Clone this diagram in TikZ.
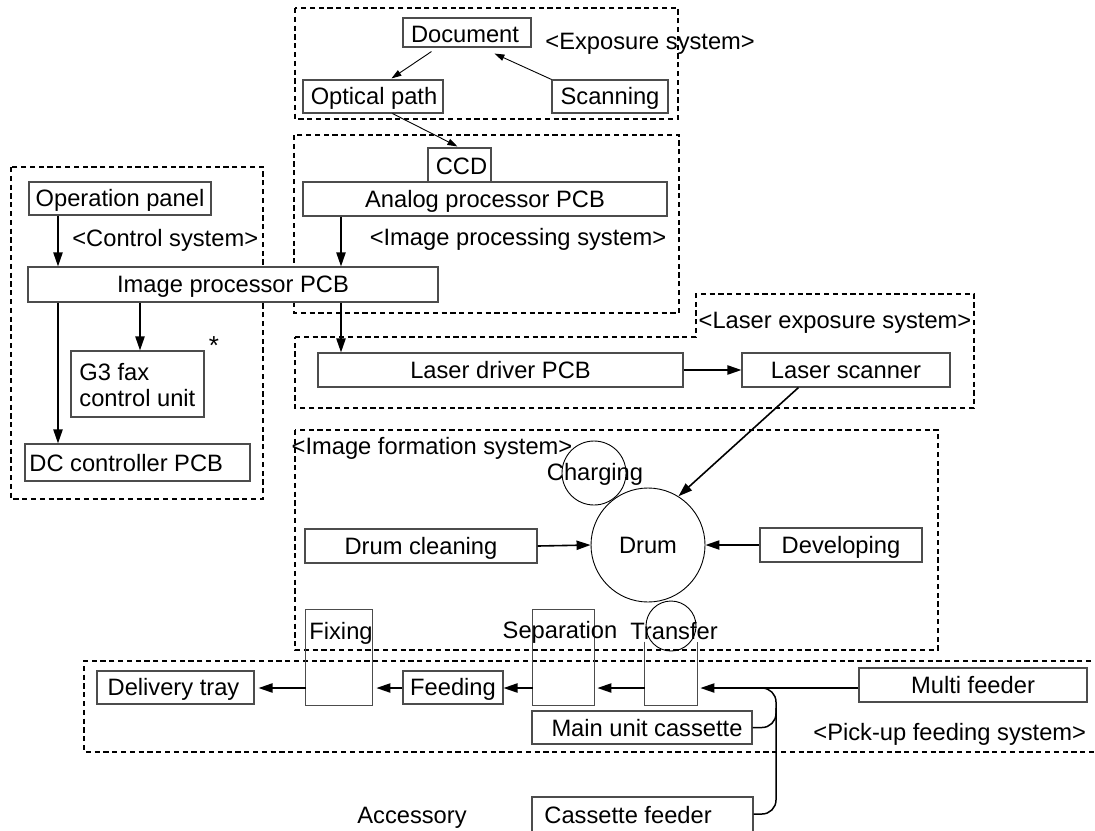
\documentclass[tikz,border=0pt]{standalone}
\usepackage{fontspec}
\setmainfont{Liberation Sans}
\usetikzlibrary{arrows.meta,fit,calc}
\begin{document}
\begin{tikzpicture}[x=0.5pt,y=-0.5pt,
  font=\fontsize{11.85pt}{12.9pt}\selectfont,
  box/.style={draw=black!70, line width=0.55pt, fill=white, inner sep=0pt},
  openbox/.style={inner sep=0pt},
  boxline/.style={draw=black!70, line width=0.55pt},
  lbl/.style={inner sep=0pt, text height=10.9pt, text depth=2.5pt},
  grp/.style={draw=black, dash pattern=on 2.6pt off 1.8pt, line width=0.6pt},
  arr/.style={line width=0.8pt, -{Triangle[length=7pt,width=4.6pt]}},
  tarr/.style={line width=0.45pt, -{Triangle[length=5pt,width=3.2pt]}},
  conn/.style={line width=0.75pt},
  roll/.style={draw=black, line width=0.45pt, circle, inner sep=0pt}]
\useasboundingbox (0,0) rectangle (1095,830);
\clip (0,0) rectangle (1095,830);

% group outlines
\draw[grp] (295,8) rectangle (678,119);
\draw[grp] (294,135) rectangle (679,313);
\draw[grp] (11,167) rectangle (263,499);
\draw[grp] (295,337) -- (696,337) -- (696,294) -- (974,294) -- (974,408) -- (295,408) -- cycle;
\draw[grp] (295,430) rectangle (938,650);
\draw[grp] (1100,661) -- (84,661) -- (84,752) -- (1100,752);

% group labels
\node[lbl, anchor=west] (lexp) at (545,41) {<Exposure system>};
\node[lbl, anchor=west] (lctl) at (72,238) {<Control system>};
\node[lbl] (limg) at (518,237) {<Image processing system>};
\node[lbl] (llas) at (835,320) {<Laser exposure system>};
\node[lbl] (lform) at (432,446) {<Image formation system>};
\node[lbl, anchor=west] (lpick) at (813,732) {<Pick-up feeding system>};
\node[lbl] (lacc) at (412,815) {Accessory};

% exposure system
\node[box, fit={(403,18) (531,47)}] (doc) {};
\node[lbl] at ($(doc.center)+(-2,2)$) {Document};
\node[box, fit={(303,80) (443,113)}] (opt) {};
\node[lbl] at ($(opt.center)+(1,0)$) {Optical path};
\node[box, fit={(552,80) (668,113)}] (scan) {};
\node[lbl] at (scan.center) {Scanning};

% image processing
\node[box, fit={(428,148) (491,182)}] (ccd) {};
\node[lbl] at ($(ccd.center)+(2,1)$) {CCD};
\node[box, fit={(303,182) (667,216)}] (apcb) {};
\node[lbl] at (apcb.center) {Analog processor PCB};

% control system
\node[box, fit={(29,182) (211,215)}] (op) {};
\node[lbl] at (op.center) {Operation panel};
\node[box, fit={(28,267) (438,302)}] (ip) {};
\node[lbl] at (ip.center) {Image processor PCB};
\node[box, fit={(71,351) (204,417)}] (g3) {};
\node[inner sep=0pt, anchor=west, align=left] (g3t) at (79,385) {G3 fax\\control unit};
\node[inner sep=0pt, font=\fontsize{13pt}{14pt}\selectfont] (star) at (214,346) {*};
\node[box, fit={(25,444) (250,481)}] (dc) {};
\node[lbl, anchor=west] (dct) at (29,463) {DC controller PCB};

% laser exposure
\node[box, fit={(318,353) (683,387)}] (ld) {};
\node[lbl] at (ld.center) {Laser driver PCB};
\node[box, fit={(742,353) (950,387)}] (ls) {};
\node[lbl] at (ls.center) {Laser scanner};

% image formation
\node[roll, minimum size=32pt] (chg) at (594,473) {};
\node[roll, minimum size=25pt] (trr) at (671,626) {};
\node[roll, minimum size=57pt, text height=10.9pt, text depth=2.5pt] (drum) at (648,545) {Drum};
\node[lbl] (chgt) at (595,472) {Charging};
\node[box, fit={(305,529) (537,563)}] (dcl) {};
\node[lbl] at (dcl.center) {Drum cleaning};
\node[box, fit={(760,528) (922,562)}] (dev) {};
\node[lbl] at (dev.center) {Developing};

% process stations
\node[openbox, fit={(306,610) (372,705)}] (fix) {};
\draw[boxline] (fix.north west) rectangle (fix.south east);
\node[lbl, anchor=west] (fixt) at (309,631) {Fixing};
\node[openbox, fit={(533,610) (594,705)}] (sep) {};
\draw[boxline] (sep.north west) rectangle (sep.south east);
\node[lbl] (sept) at (560,630) {Separation};
\node[openbox, fit={(645,642) (697,705)}] (trb) {};
\draw[boxline] (trb.north west) |- (trb.south east) -- (trb.north east);
\node[lbl] (trt) at (674,631) {Transfer};

% pick-up feeding
\node[box, fit={(97,671) (254,704)}] (dt) {};
\node[lbl] at ($(dt.center)+(-2,0)$) {Delivery tray};
\node[box, fit={(403,671) (503,704)}] (feed) {};
\node[lbl] at (feed.center) {Feeding};
\node[box, fit={(532,711) (752,744)}] (muc) {};
\node[lbl] (muct) at (647,728) {Main unit cassette};
\node[box, fit={(859,668) (1087,702)}] (mf) {};
\node[lbl] at (mf.center) {Multi feeder};
\node[box, fit={(532,797) (753,840)}] (cf) {};
\node[lbl, anchor=west] (cft) at (544,815) {Cassette feeder};

% helper coordinates
\coordinate (x58) at (58,0);
\coordinate (x140) at (140,0);
\coordinate (x341) at (341,0);
\coordinate (row) at (0,688);
\coordinate (bus) at (776,688);

% exposure connectors
\draw[tarr] ($(doc.south west)+(29,4)$) -- ($(opt.north west)+(89,-1)$);
\draw[tarr] (scan.north west) -- ($(doc.south west)+(92,6)$);
\draw[tarr] ($(opt.south west)+(90,0)$) -- ($(ccd.north west)+(30,-1)$);

% control / processing connectors
\draw[arr] (op.south -| x58) -- (ip.north -| x58);
\draw[arr] (ip.south -| x58) -- (dc.north -| x58);
\draw[arr] (ip.south -| x140) -- (g3.north -| x140);
\draw[arr] (apcb.south -| x341) -- (ip.north -| x341);
\draw[arr] (ip.south -| x341) -- (ld.north -| x341);
\draw[arr] (ld.east) -- (ls.west);

% image formation connectors
\draw[arr] ($(ls.south west)+(57,0)$) -- (drum.58);
\draw[arr] (dcl.east) -- (drum.west);
\draw[arr] (dev.west) -- (drum.east);

% paper path
\draw[arr] (fix.west |- row) -- ($(dt.east |- row)+(4,0)$);
\draw[arr] (feed.west |- row) -- ($(fix.east |- row)+(4,0)$);
\draw[arr] (sep.west |- row) -- (feed.east |- row);
\draw[arr] (trb.west |- row) -- ($(sep.east |- row)+(3,0)$);
\draw[arr] (mf.west |- bus) -- ($(trb.east |- bus)+(3,0)$);
\draw[conn, rounded corners=7pt] (cf.east |- 0,814) -| (bus) -- ($(bus)+(-30,0)$);
\draw[conn, rounded corners=7pt] (muc.east) -| ($(bus)+(0,20)$);
\end{tikzpicture}
\end{document}
